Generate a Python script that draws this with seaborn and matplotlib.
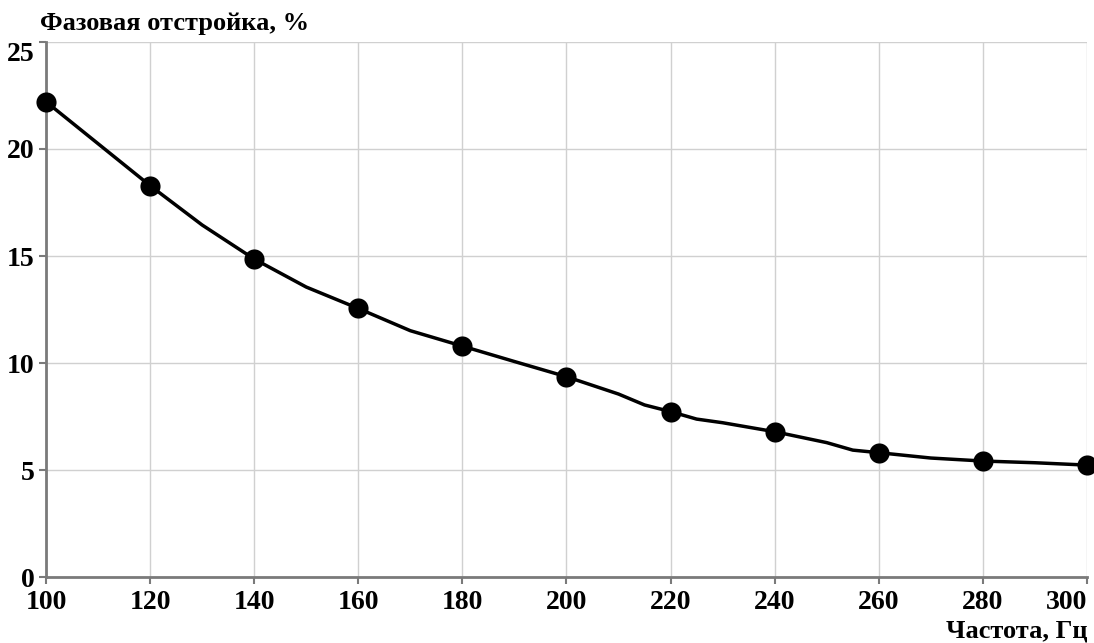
import pandas as pd
import seaborn as sns
import matplotlib.pyplot as plt

# curve points
freq_line = [100, 110, 120, 130, 140, 150, 160, 170, 180, 190, 200, 210, 215,
             220, 225, 230, 240, 250, 255, 260, 270, 280, 290, 300]
detune_line = [22.21, 20.25, 18.29, 16.45, 14.86, 13.55, 12.55, 11.51, 10.79,
               10.07, 9.36, 8.55, 8.04, 7.73, 7.38, 7.21, 6.79, 6.28, 5.93,
               5.81, 5.56, 5.42, 5.34, 5.23]

# marked points
freq_pts = [100, 120, 140, 160, 180, 200, 220, 240, 260, 280, 300]
detune_pts = [22.21, 18.29, 14.86, 12.55, 10.79, 9.36, 7.73, 6.79, 5.81, 5.42, 5.23]

x_ticks = [100, 120, 140, 160, 180, 200, 220, 240, 260, 280, 300]
y_ticks = [0, 5, 10, 15, 20, 25]

sns.set_style("white")
plt.rcParams['font.family'] = ['Liberation Serif', 'DejaVu Serif']
plt.rcParams['font.weight'] = 'bold'
plt.rcParams['text.color'] = 'black'
plt.rcParams['xtick.labelcolor'] = 'black'
plt.rcParams['ytick.labelcolor'] = 'black'

fig = plt.figure(figsize=(10.94, 6.43), dpi=100)
ax = fig.add_axes([0.042, 0.1026, 0.9516, 0.8321])

df_line = pd.DataFrame({"f": freq_line, "d": detune_line})
df_pts = pd.DataFrame({"f": freq_pts, "d": detune_pts})

sns.lineplot(data=df_line, x="f", y="d", color="black", linewidth=2.5, ax=ax, zorder=3)
sns.scatterplot(data=df_pts, x="f", y="d", color="black", s=210, edgecolor="black",
                linewidth=0, ax=ax, zorder=4, clip_on=False)

ax.set_xlim(100, 300)
ax.set_ylim(0, 25)
ax.set_xticks(x_ticks)
ax.set_yticks(y_ticks)
ax.set_xticklabels([str(v) for v in x_ticks], fontsize=20, fontweight='bold', color='black')
ax.set_yticklabels([str(v) for v in y_ticks], fontsize=20, fontweight='bold', color='black')
ax.get_xticklabels()[-1].set_horizontalalignment('right')
ax.get_yticklabels()[-1].set_verticalalignment('top')

ax.grid(True, color="#d0d0d0", linewidth=1)
ax.set_axisbelow(True)
for s in ["top", "right"]:
    ax.spines[s].set_visible(False)
for s in ["left", "bottom"]:
    ax.spines[s].set_color("#7a7a7a")
    ax.spines[s].set_linewidth(2)
ax.tick_params(axis="both", direction="out", length=5, width=1.5, color="#7a7a7a",
               pad=3, bottom=True, left=True)
ax.tick_params(axis="x", pad=4)
ax.set_xlabel("")
ax.set_ylabel("")

fig.text(40 / 1094, 1 - 30 / 643, "Фазовая отстройка, %", fontsize=19,
         fontweight='bold', ha='left', va='baseline', color='black')
fig.text(1087 / 1094, 1 - 637 / 643, "Частота, Гц", fontsize=19,
         fontweight='bold', ha='right', va='baseline', color='black')

fig.savefig("out.png", dpi=100, facecolor="white")
